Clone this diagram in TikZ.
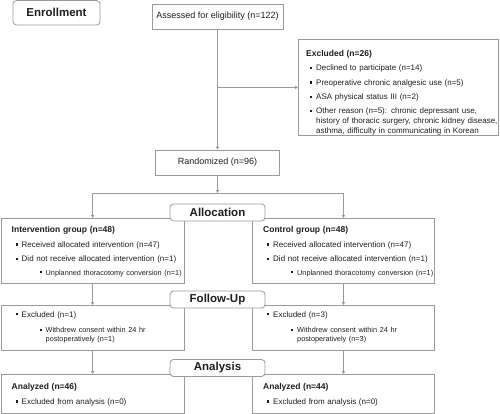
\documentclass[tikz,border=0pt]{standalone}
\usepackage{fontspec}
\setmainfont{Liberation Sans}
\usetikzlibrary{arrows.meta,positioning}
\definecolor{linegray}{HTML}{9A9A9A}
\definecolor{inkgray}{HTML}{1E1E1E}
\newcommand{\sq}{\rule[1.6pt]{2.2pt}{2.2pt}}
\newcommand{\hd}[1]{{\fontsize{8.5}{10}\selectfont\bfseries #1\par}\vspace{4.4pt}}
\newcommand{\itm}[1]{\noindent\makebox[10pt][l]{\hspace{4pt}\sq}\parbox[t]{185pt}{\raggedright #1}\par\vspace{4.4pt}}
\newcommand{\subitm}[1]{{\fontsize{7.3}{9}\selectfont\noindent\makebox[34pt][l]{\hspace{28pt}\sq}\parbox[t]{140pt}{\raggedright #1}\par}\vspace{4.4pt}}
\begin{document}
\begin{tikzpicture}[x=1pt,y=-1pt,
		line/.style={draw=linegray,line width=0.8pt},
		arr/.style={line,-{Triangle[width=3.2pt,length=3pt]}},
		stage/.style={draw=linegray,line width=0.8pt,rounded corners=3.5pt,fill=white,inner sep=0pt,
				font=\fontsize{11.5}{13}\selectfont\bfseries,text=inkgray},
		plain/.style={draw=linegray,line width=0.8pt,fill=white,inner sep=0pt,
				font=\fontsize{9}{11}\selectfont,text=inkgray},
		frame/.style={draw=linegray,line width=0.8pt,anchor=north west,inner sep=0pt},
		list/.style={anchor=north west,inner sep=0pt,text width=200pt,align=left,
				font=\fontsize{8}{10}\selectfont,text=inkgray}
	]
	\useasboundingbox (0,0) rectangle (500,413);

	\node[stage,minimum width=87pt,minimum height=24.5pt] (enroll) at (56.5,12.75) {Enrollment};
	\node[plain,minimum width=131pt,minimum height=25pt] (assess) at (217.5,16.5) {Assessed for eligibility (n=122)};
	\node[frame,minimum width=200pt,minimum height=96pt] (excl) at (298,39) {};
	\node[list] (excl-txt) at ([shift={(8,11)}]excl.north west) {
		\hd{Excluded (n=26)}
		\itm{Declined to participate (n=14)}
		\itm{Preoperative chronic analgesic use (n=5)}
		\itm{ASA physical status III (n=2)}
		\itm{Other reason (n=5): chronic depressant use,\\ history of thoracic surgery, chronic kidney disease,\\ asthma, difficulty in communicating in Korean}};
	\node[plain,minimum width=124pt,minimum height=25pt] (rand) at (217.5,162.5) {Randomized (n=96)};

	\node[frame,minimum width=183.5pt,minimum height=64.5pt] (int) at (0.5,218) {};
	\node[list] (int-txt) at ([shift={(11,8.5)}]int.north west) {
		\hd{Intervention group (n=48)}
		\itm{Received allocated intervention (n=47)}
		\itm{Did not receive allocated intervention (n=1)}
		\subitm{Unplanned thoracotomy conversion (n=1)}};
	\node[frame,minimum width=182pt,minimum height=64.5pt] (ctl) at (252,218) {};
	\node[list] (ctl-txt) at ([shift={(11,8.5)}]ctl.north west) {
		\hd{Control group (n=48)}
		\itm{Received allocated intervention (n=47)}
		\itm{Did not receive allocated intervention (n=1)}
		\subitm{Unplanned thoracotomy conversion (n=1)}};

	\node[frame,minimum width=183.5pt,minimum height=45pt] (fuint) at (0.5,305) {};
	\node[list] (fuint-txt) at ([shift={(11,6)}]fuint.north west) {
		\itm{Excluded (n=1)}\vspace{2pt}
		\subitm{Withdrew consent within 24 hr\\ postoperatively (n=1)}};
	\node[frame,minimum width=182pt,minimum height=45pt] (fuctl) at (252,305) {};
	\node[list] (fuctl-txt) at ([shift={(11,6)}]fuctl.north west) {
		\itm{Excluded (n=3)}\vspace{2pt}
		\subitm{Withdrew consent within 24 hr\\ postoperatively (n=3)}};

	\node[frame,minimum width=183.5pt,minimum height=38.5pt] (anint) at (0.5,374) {};
	\node[list] (anint-txt) at ([shift={(11,9.5)}]anint.north west) {
		\hd{Analyzed (n=46)}
		\itm{Excluded from analysis (n=0)}};
	\node[frame,minimum width=182pt,minimum height=38.5pt] (anctl) at (252,374) {};
	\node[list] (anctl-txt) at ([shift={(11,9.5)}]anctl.north west) {
		\hd{Analyzed (n=44)}
		\itm{Excluded from analysis (n=0)}};

	\node[stage,minimum width=95pt,minimum height=17pt] (alloc) at (217.5,212.5) {Allocation};
	\node[stage,minimum width=95pt,minimum height=17pt] (follow) at (217.5,299.5) {Follow-Up};
	\node[stage,minimum width=95pt,minimum height=17pt] (anlys) at (217.5,368) {Analysis};

	\coordinate (split) at (assess.south |- excl.west);
	\coordinate (fork) at (217.5,193);
	\draw[arr] (assess) -- (rand);
	\draw[arr] (split) -- (excl.west);
	\draw[arr] (rand) -- (fork);
	\draw[arr] (fork) -| (int.north);
	\draw[arr] (fork) -| (ctl.north);
	\draw[arr] (int) -- (fuint);
	\draw[arr] (ctl) -- (fuctl);
	\draw[arr] (fuint) -- (anint);
	\draw[arr] (fuctl) -- (anctl);
\end{tikzpicture}
\end{document}
